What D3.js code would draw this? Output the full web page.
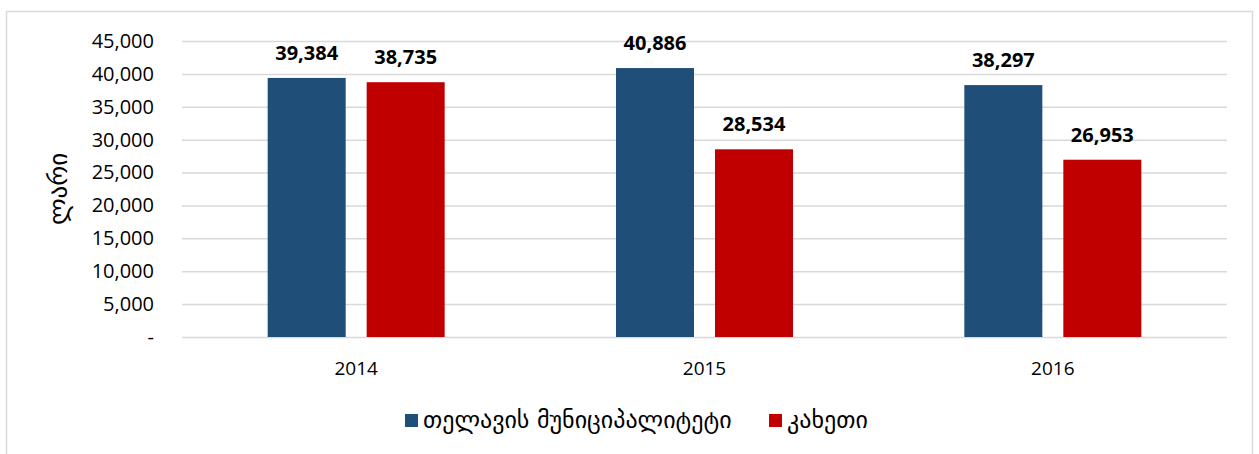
<!DOCTYPE html>
<html>
    <head>
        <meta charset="utf-8">
        <script src="https://cdn.jsdelivr.net/npm/d3@7"></script>
        <style>
            body { margin: 0; background: #fff; }
            text { font-family: "Open Sans", "DejaVu Sans", sans-serif; }
        </style>
    </head>
    <body>
        <div id="chart"></div>
        <script>
            // data
            const years = ["2014", "2015", "2016"];
            const seriesNames = ["თელავის მუნიციპალიტეტი", "კახეთი"];
            const telavi = [39384, 40886, 38297];
            const kakheti = [38735, 28534, 26953];
            const yTicks = [0, 5000, 10000, 15000, 20000, 25000, 30000, 35000, 40000, 45000];
            const colors = ["#1F4E79", "#C00000"];

            const W = 1259, H = 454;
            const margin = {top: 41, right: 32, bottom: 117, left: 182},
                width = W - margin.left - margin.right,
                height = H - margin.top - margin.bottom;

            const svg = d3.select("#chart").append("svg")
                .attr("width", W)
                .attr("height", H);

            // outer frame
            svg.append("rect")
                .attr("x", 6.5).attr("y", 11.5)
                .attr("width", 1246).attr("height", 460)
                .attr("fill", "none")
                .attr("stroke", "#d9d9d9")
                .attr("stroke-width", 1.5);

            const g = svg.append("g")
                .attr("transform", "translate(" + margin.left + "," + margin.top + ")");

            const y = d3.scaleLinear().domain([0, 45000]).range([height, 0]);
            const x = d3.scaleBand().domain(years).range([0, width]);
            const xSub = d3.scaleBand().domain([0, 1])
                .range([x.bandwidth() / 2 - 88.5, x.bandwidth() / 2 + 88.5])
                .paddingInner(0.212);

            // y axis with gridlines
            const yAxis = g.append("g")
                .call(d3.axisLeft(y)
                    .tickValues(yTicks)
                    .tickSize(-width)
                    .tickPadding(28)
                    .tickFormat(d => d === 0 ? "-" : d3.format(",")(d)));
            yAxis.select(".domain").remove();
            yAxis.selectAll(".tick line")
                .attr("stroke", "#d9d9d9")
                .attr("stroke-width", 1.5);
            yAxis.selectAll(".tick text")
                .attr("fill", "#000")
                .style("font-size", "20px")
                .style("font-family", "'Open Sans', sans-serif");

            // y title
            svg.append("text")
                .attr("transform", "translate(67,189) rotate(-90)")
                .attr("text-anchor", "middle")
                .style("font-size", "25px")
                .style("font-family", "'DejaVu Sans', sans-serif")
                .text("ლარი");

            // bars
            const rows = years.map((yr, i) => ({year: yr, vals: [telavi[i], kakheti[i]]}));
            const groups = g.selectAll(".grp")
                .data(rows).enter()
                .append("g")
                .attr("transform", d => "translate(" + x(d.year) + ",0)");

            groups.selectAll("rect")
                .data(d => d.vals.map((v, k) => ({k: k, v: v})))
                .enter().append("rect")
                .attr("x", d => xSub(d.k))
                .attr("width", xSub.bandwidth())
                .attr("y", d => y(d.v))
                .attr("height", d => height - y(d.v))
                .attr("fill", d => colors[d.k]);

            groups.selectAll(".lbl")
                .data(d => d.vals.map((v, k) => ({k: k, v: v})))
                .enter().append("text")
                .attr("x", d => xSub(d.k) + xSub.bandwidth() / 2)
                .attr("y", d => y(d.v) - 18)
                .attr("text-anchor", "middle")
                .style("font-size", "20px")
                .style("font-weight", "bold")
                .text(d => d3.format(",")(d.v));

            // x labels
            g.selectAll(".xl")
                .data(years).enter()
                .append("text")
                .attr("x", d => x(d) + x.bandwidth() / 2)
                .attr("y", height + 38)
                .attr("text-anchor", "middle")
                .style("font-size", "19px")
                .text(d => d);

            // legend
            const legendX = [405, 769];
            const legend = svg.selectAll(".leg")
                .data(seriesNames).enter()
                .append("g")
                .attr("transform", (d, i) => "translate(" + legendX[i] + ",414)");
            legend.append("rect")
                .attr("width", 13).attr("height", 13)
                .attr("fill", (d, i) => colors[i]);
            legend.append("text")
                .attr("x", 18)
                .attr("y", 14)
                .style("font-size", "24px")
                .style("font-family", "'DejaVu Sans', sans-serif")
                .text(d => d);
        </script>
    </body>
</html>
